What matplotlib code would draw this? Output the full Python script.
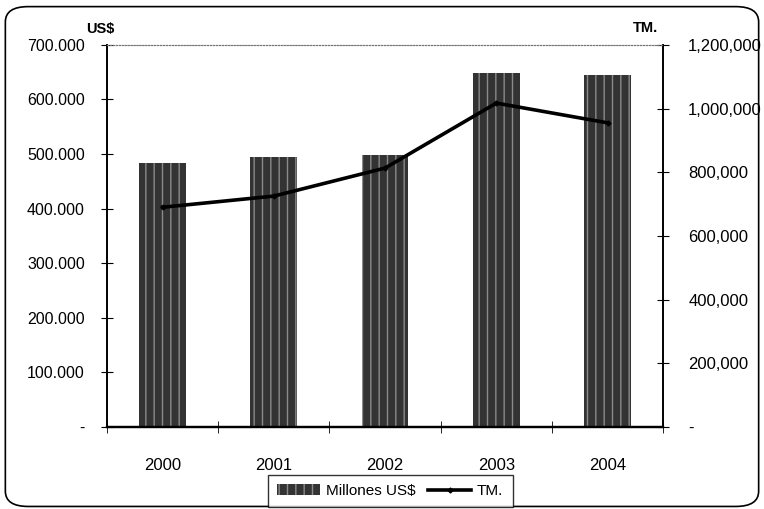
import numpy as np
import matplotlib.pyplot as plt
from matplotlib.patches import FancyBboxPatch
from matplotlib.ticker import FuncFormatter

years = ['2000', '2001', '2002', '2003', '2004']
millones_usd = [483000, 494000, 498000, 648000, 645000]
tm = [690000, 725000, 813000, 1017000, 955000]

plt.rcParams['font.family'] = ['Liberation Sans', 'DejaVu Sans']

fig = plt.figure(figsize=(7.64, 5.09), dpi=100)
ax = fig.add_axes([0.140, 0.161, 0.728, 0.751])
ax2 = ax.twinx()

x = np.arange(len(years))
ax.bar(x, millones_usd, width=0.42, color='#333333', edgecolor='#8a8a8a',
       hatch='||', linewidth=0, label='Millones US$', zorder=2)
ax2.plot(x, tm, color='black', lw=2.6, marker='D', ms=2.5, label='TM.', zorder=3)

ax.set_xlim(-0.5, 4.5)
ax.set_ylim(0, 700000)
ax2.set_ylim(0, 1200000)
ax.set_xticks(x)
ax.set_xticklabels(years)
ax.set_xticks(np.arange(-0.5, 5, 1), minor=True)
ax.tick_params(axis='x', which='major', length=0, pad=22, labelsize=12)
ax.tick_params(axis='x', which='minor', length=8, direction='inout')

ax.set_yticks(np.arange(0, 700001, 100000))
ax2.set_yticks(np.arange(0, 1200001, 200000))
ax.yaxis.set_major_formatter(FuncFormatter(
    lambda v, p: '-' if v == 0 else f'{int(v):,}'.replace(',', '.')))
ax2.yaxis.set_major_formatter(FuncFormatter(
    lambda v, p: '-' if v == 0 else f'{int(v):,}'))
ax.tick_params(axis='y', length=8, direction='inout', labelsize=11.5, pad=12)
ax2.tick_params(axis='y', length=8, direction='inout', labelsize=12, pad=14)

for a in (ax, ax2):
    a.spines['top'].set_color('#777777')
    a.spines['top'].set_linestyle(':')
    a.spines['left'].set_linewidth(1.2)
    a.spines['right'].set_linewidth(1.2)
    a.spines['bottom'].set_linewidth(1.6)

fig.text(0.131, 0.935, 'US$', fontsize=10.5, fontweight='bold', ha='center')
fig.text(0.845, 0.937, 'TM.', fontsize=10.5, fontweight='bold', ha='center')

h1, l1 = ax.get_legend_handles_labels()
h2, l2 = ax2.get_legend_handles_labels()
fig.legend(h1 + h2, l1 + l2, loc='center', bbox_to_anchor=(0.511, 0.035),
           ncol=2, frameon=True, fancybox=False, edgecolor='black',
           fontsize=11, handlelength=2.8, columnspacing=0.8, handletextpad=0.4,
           borderpad=0.6)

fig.patches.append(FancyBboxPatch((0.007, 0.005), 0.986, 0.982,
                                  boxstyle='round,pad=0,rounding_size=0.03',
                                  transform=fig.transFigure, fill=False,
                                  edgecolor='black', lw=1.2))

fig.savefig('out.png', dpi=100)
